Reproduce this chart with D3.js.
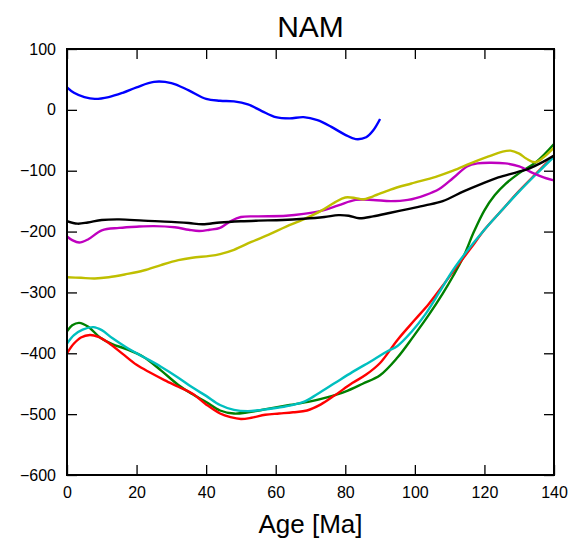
<!DOCTYPE html>
<html>
<head>
<meta charset="utf-8">
<script src="https://cdn.jsdelivr.net/npm/d3@7"></script>
<style>
  body { margin: 0; background: #fff; }
  svg text { font-family: "Liberation Sans", Arial, sans-serif; fill: #000; }
</style>
</head>
<body>
<div id="chart"></div>
<script>
// Series (age in Ma, value)
var blueAge  = [0, 2, 5, 8, 12, 16, 20, 25, 30, 35, 40, 44, 48, 52, 56, 60, 64, 68, 72, 76, 80, 83, 86, 88, 90];
var blueVal  = [37, 28, 21, 18, 21, 28, 37, 46, 44, 32, 18, 15, 14, 9, -2, -12, -14, -12, -17, -28, -41, -48, -45, -34, -15];

var greenAge = [0, 1.5, 3.5, 6, 9.5, 13, 17, 22, 27, 32, 36, 40, 44, 48, 52, 58, 64, 70, 75, 80, 85, 90, 95, 99.5, 104, 108, 111, 114, 117, 120, 123, 126, 130, 135, 140];
var greenVal = [-364, -354, -350, -356, -374, -385, -393, -406, -428, -452, -467, -480, -494, -499, -497, -491, -485, -479, -472, -463, -450, -436, -407, -373, -337, -302, -273, -241, -200, -165, -140, -122, -104, -85, -56];

var redAge   = [0, 2, 4, 6.6, 9, 12, 16, 20, 24, 28, 32, 36, 40, 44, 47, 50, 53, 57, 61, 65, 69, 73, 77, 82, 86, 90, 95, 100, 104, 108, 112, 116, 120, 125, 130, 135, 140];
var redVal   = [-400, -384, -374, -370, -373, -383, -401, -419, -432, -444, -455, -466, -484, -499, -505, -508, -506, -501, -499, -497, -494, -484, -469, -449, -435, -416, -378, -345, -319, -289, -258, -228, -197, -165, -133, -104, -75];

var cyanAge  = [0, 2, 4.5, 7.6, 10, 13, 17, 22, 27, 32, 36, 40, 44, 48, 52, 56, 60, 64, 68, 72, 77, 82, 88, 92, 95, 99, 103, 107, 111, 115, 120, 125, 130, 135, 140];
var cyanVal  = [-384, -370, -361, -357, -362, -375, -390, -406, -422, -440, -456, -470, -485, -493, -495, -493, -490, -486, -480, -467, -449, -431, -411, -397, -388, -365, -336, -300, -263, -232, -197, -165, -134, -105, -77];

var magAge   = [0, 1.5, 3.5, 6, 10, 15, 20, 25, 31, 35, 38, 41, 44, 47, 50, 55, 63, 68, 73, 78, 83, 88, 93, 98, 103, 107, 111, 115, 118, 122, 126, 130, 134, 137, 140];
var magVal   = [-208, -214, -218, -213, -198, -194, -192, -191, -193, -197, -199, -197, -194, -183, -176, -175, -174, -171, -166, -157, -148, -148, -150, -148, -140, -130, -112, -93, -88, -87, -88, -93, -104, -111, -116];

var yelAge   = [0, 4, 8, 12, 17, 22, 27, 32, 36, 41, 44, 48, 53, 58, 63, 68, 73, 77, 80, 83, 85, 88, 93, 99, 106, 111, 116, 121, 125, 127.5, 130, 132, 134.5, 137, 140];
var yelVal   = [-275, -276, -277, -275, -270, -264, -255, -247, -243, -240, -237, -230, -217, -205, -192, -180, -166, -152, -144, -145, -147, -142, -131, -121, -110, -100, -88, -77, -69, -67, -72, -80, -86, -78, -62];

var blackAge = [0, 3, 6, 10, 15, 22, 30, 35, 39, 44, 50, 55, 62, 68, 74, 78, 81, 84, 88, 93, 98, 103, 108, 114, 119, 124, 129, 133, 136, 140];
var blackVal = [-183, -187, -185, -181, -180, -182, -184, -186, -188, -185, -183, -182, -181, -179, -176, -173, -174, -178, -175, -169, -163, -157, -150, -134, -122, -111, -103, -96, -88, -75];

var xTicks = [0, 20, 40, 60, 80, 100, 120, 140];
var yTicks = [-600, -500, -400, -300, -200, -100, 0, 100];

var series = [
    [blueAge, blueVal, '#0000ff'],
    [greenAge, greenVal, '#008000'],
    [redAge, redVal, '#ff0000'],
    [cyanAge, cyanVal, '#00bfbf'],
    [magAge, magVal, '#bf00bf'],
    [yelAge, yelVal, '#bfbf00'],
    [blackAge, blackVal, '#000000']
];

var svgWidth = 576, svgHeight = 544;
var margin = { top: 49, right: 22, bottom: 69, left: 67 };
var width = svgWidth - margin.left - margin.right;
var height = svgHeight - margin.top - margin.bottom;

var svg = d3.select('#chart')
    .append('svg')
        .attr('width', svgWidth)
        .attr('height', svgHeight);

var chart = svg.append('g')
    .attr('transform', 'translate(' + margin.left + ',' + margin.top + ')');

var x = d3.scaleLinear().domain([0, 140]).range([0, width]);
var y = d3.scaleLinear().domain([-600, 100]).range([height, 0]);

// clip so lines stay inside the frame
chart.append('clipPath').attr('id', 'clip')
    .append('rect').attr('width', width).attr('height', height);

var line = d3.line()
    .x(function(d) { return x(d[0]); })
    .y(function(d) { return y(d[1]); })
    .curve(d3.curveCatmullRom.alpha(0.5));

var lines = chart.append('g').attr('clip-path', 'url(#clip)');
series.forEach(function(s) {
    var pts = s[0].map(function(a, i) { return [a, s[1][i]]; });
    lines.append('path')
        .datum(pts)
        .attr('d', line)
        .attr('fill', 'none')
        .attr('stroke', s[2])
        .attr('stroke-width', 2.4)
        .attr('stroke-linejoin', 'round');
});

// Axes: ticks point inwards on all four sides
var fmt = d3.format('d');
function styleAxis(g) {
    g.select('.domain').remove();
    g.selectAll('.tick line').attr('stroke', '#000').attr('stroke-width', 1.3);
    g.selectAll('.tick text').attr('font-size', 16).attr('font-family', '"Liberation Sans", Arial, sans-serif');
}

chart.append('g')
    .attr('transform', 'translate(0,' + height + ')')
    .call(d3.axisBottom(x).tickValues(xTicks).tickFormat(fmt).tickSizeInner(-10).tickPadding(12))
    .call(styleAxis);

chart.append('g')
    .call(d3.axisTop(x).tickValues(xTicks).tickSizeInner(-10).tickFormat(''))
    .call(styleAxis);

chart.append('g')
    .call(d3.axisLeft(y).tickValues(yTicks).tickFormat(fmt).tickSizeInner(-10).tickPadding(11))
    .call(styleAxis);

chart.append('g')
    .attr('transform', 'translate(' + width + ',0)')
    .call(d3.axisRight(y).tickValues(yTicks).tickSizeInner(-10).tickFormat(''))
    .call(styleAxis);

// Frame
chart.append('rect')
    .attr('width', width)
    .attr('height', height)
    .attr('fill', 'none')
    .attr('stroke', '#000')
    .attr('stroke-width', 2);

// Title and label
svg.append('text')
    .attr('x', margin.left + width / 2)
    .attr('y', 37)
    .attr('text-anchor', 'middle')
    .attr('font-size', 30)
    .text('NAM');

svg.append('text')
    .attr('x', margin.left + width / 2)
    .attr('y', 533)
    .attr('text-anchor', 'middle')
    .attr('font-size', 26)
    .text('Age [Ma]');
</script>
</body>
</html>
